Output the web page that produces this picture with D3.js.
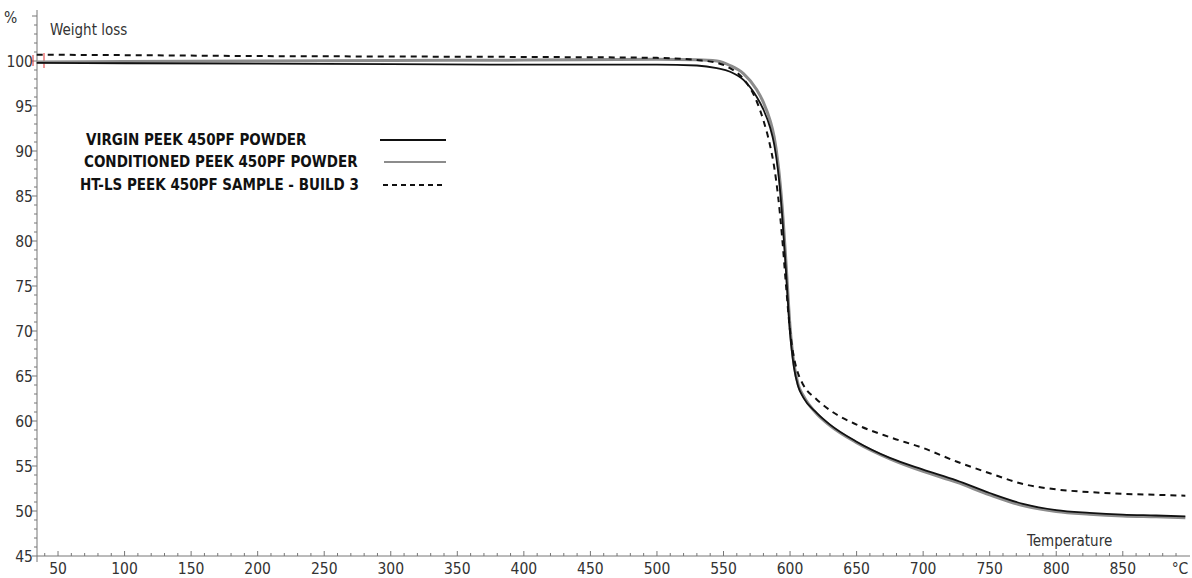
<!DOCTYPE html>
<html>
<head>
<meta charset="utf-8">
<script src="https://cdn.jsdelivr.net/npm/d3@7"></script>
<style>
  body { margin: 0; background: #fff; }
  svg { display: block; }
  .tick-label { font-family: "DejaVu Sans Condensed", "DejaVu Sans", sans-serif; font-size: 15.5px; fill: #333; }
  .axis-title { font-family: "DejaVu Sans Condensed", "DejaVu Sans", sans-serif; font-size: 15px; fill: #333; }
  .legend-label { font-family: "DejaVu Sans Condensed", "DejaVu Sans", sans-serif; font-size: 15px; font-weight: bold; fill: #111; }
</style>
</head>
<body>
<div id="chart"></div>
<script>
// temperature (°C) and weight (%)
const temperature = [34, 100, 200, 300, 400, 500, 530, 545, 555, 565, 575, 580, 585, 588, 591, 594, 597, 600, 603, 606, 610, 620, 630, 650, 675, 700, 725, 750, 775, 800, 825, 850, 875, 897];
const virginPowder = [99.8, 99.75, 99.7, 99.65, 99.6, 99.6, 99.5, 99.2, 98.8, 97.9, 96.0, 94.6, 92.6, 90.8, 87.8, 83.0, 76.5, 69.8, 65.9, 63.9, 62.6, 60.9, 59.6, 57.7, 55.9, 54.6, 53.4, 52.0, 50.8, 50.1, 49.8, 49.6, 49.5, 49.4];
const conditionedPowder = [99.9, 99.95, 100.0, 100.05, 100.1, 100.2, 100.15, 100.0, 99.5, 98.6, 96.8, 95.4, 93.4, 91.6, 88.6, 84.0, 77.5, 70.5, 66.3, 64.1, 62.8, 60.8, 59.5, 57.6, 55.8, 54.4, 53.2, 51.8, 50.6, 49.95, 49.65, 49.45, 49.35, 49.25];
const buildSample = [100.7, 100.65, 100.55, 100.5, 100.45, 100.35, 100.1, 99.8, 99.2, 98.0, 95.5, 93.4, 90.6, 88.3, 85.0, 80.5, 75.0, 70.0, 67.0, 65.3, 64.0, 62.4, 61.2, 59.6, 58.2, 57.0, 55.5, 54.2, 53.0, 52.4, 52.1, 51.9, 51.8, 51.7];

const seriesNames = ["VIRGIN PEEK 450PF POWDER", "CONDITIONED PEEK 450PF POWDER", "HT-LS PEEK 450PF SAMPLE - BUILD 3"];
const xTicks = [50, 100, 150, 200, 250, 300, 350, 400, 450, 500, 550, 600, 650, 700, 750, 800, 850];
const yTicks = [45, 50, 55, 60, 65, 70, 75, 80, 85, 90, 95, 100];

const width = 1192, height = 578;
const axisColor = "#777";

const svg = d3.select("#chart").append("svg")
  .attr("width", width)
  .attr("height", height);

const x = d3.scaleLinear().domain([34.2, 899]).range([37, 1188]);
const y = d3.scaleLinear().domain([45, 100]).range([556, 61]);

// axes lines
svg.append("line")
  .attr("x1", x.range()[0]).attr("x2", x.range()[0])
  .attr("y1", 10).attr("y2", 562)
  .attr("stroke", axisColor);
svg.append("line")
  .attr("x1", x.range()[0]).attr("x2", 1190)
  .attr("y1", y(45)).attr("y2", y(45))
  .attr("stroke", axisColor);

// y ticks: every 1 %, labelled every 5
const yMinor = d3.range(45, 106, 1);
svg.append("g").selectAll("line")
  .data(yMinor)
  .enter().append("line")
  .attr("x1", d => d % 5 === 0 ? 32 : 34)
  .attr("x2", 37)
  .attr("y1", d => y(d)).attr("y2", d => y(d))
  .attr("stroke", axisColor);

svg.append("g").selectAll("text")
  .data(yTicks)
  .enter().append("text")
  .attr("class", "tick-label")
  .attr("x", 33)
  .attr("y", d => y(d) + 5.5)
  .attr("text-anchor", "end")
  .text(d => d);

// x ticks: every 10 °C, labelled every 50
const xMinor = d3.range(40, 891, 10);
svg.append("g").selectAll("line")
  .data(xMinor)
  .enter().append("line")
  .attr("x1", d => x(d)).attr("x2", d => x(d))
  .attr("y1", d => d % 50 === 0 ? y(45) - 5 : y(45) - 3)
  .attr("y2", y(45))
  .attr("stroke", axisColor);

svg.append("g").selectAll("text")
  .data(xTicks)
  .enter().append("text")
  .attr("class", "tick-label")
  .attr("x", d => x(d))
  .attr("y", 574)
  .attr("text-anchor", "middle")
  .text(d => d);

svg.append("text").attr("class", "tick-label")
  .attr("x", 1180).attr("y", 574).attr("text-anchor", "middle").text("°C");
svg.append("text").attr("class", "tick-label")
  .attr("x", 4).attr("y", 23).text("%");
svg.append("text").attr("class", "axis-title")
  .attr("x", 50).attr("y", 35).text("Weight loss");
svg.append("text").attr("class", "axis-title")
  .attr("x", 1027).attr("y", 546).text("Temperature");

// small red markers at the start of the run
svg.append("line")
  .attr("x1", 33).attr("x2", 33).attr("y1", 55).attr("y2", 66)
  .attr("stroke", "#e03030").attr("stroke-width", 1);
svg.append("line")
  .attr("x1", 44).attr("x2", 44).attr("y1", 53).attr("y2", 68)
  .attr("stroke", "#e03030").attr("stroke-width", 1);

const line = d3.line()
  .x(d => x(d[0]))
  .y(d => y(d[1]))
  .curve(d3.curveMonotoneX);

const series = [
  { values: conditionedPowder, color: "#8c8c8c", width: 3, dash: null },
  { values: virginPowder, color: "#111", width: 1.8, dash: null },
  { values: buildSample, color: "#111", width: 2, dash: "6,5" }
];

svg.append("g").selectAll("path")
  .data(series)
  .enter().append("path")
  .attr("d", s => line(temperature.map((t, i) => [t, s.values[i]])))
  .attr("fill", "none")
  .attr("stroke", s => s.color)
  .attr("stroke-width", s => s.width)
  .attr("stroke-dasharray", s => s.dash);

// legend
const legendStyle = [
  { color: "#111", width: 2, dash: null, x1: 380 },
  { color: "#8c8c8c", width: 2, dash: null, x1: 384 },
  { color: "#111", width: 2, dash: "5,4", x1: 383 }
];
const legendText = [86, 84, 80];
const legendY = [140, 162, 185];

const legend = svg.append("g").selectAll("g")
  .data(seriesNames)
  .enter().append("g");

legend.append("text")
  .attr("class", "legend-label")
  .attr("x", (d, i) => legendText[i])
  .attr("y", (d, i) => legendY[i] + 5)
  .text(d => d);

legend.append("line")
  .attr("x1", (d, i) => legendStyle[i].x1)
  .attr("x2", 446)
  .attr("y1", (d, i) => legendY[i])
  .attr("y2", (d, i) => legendY[i])
  .attr("stroke", (d, i) => legendStyle[i].color)
  .attr("stroke-width", (d, i) => legendStyle[i].width)
  .attr("stroke-dasharray", (d, i) => legendStyle[i].dash);
</script>
</body>
</html>
